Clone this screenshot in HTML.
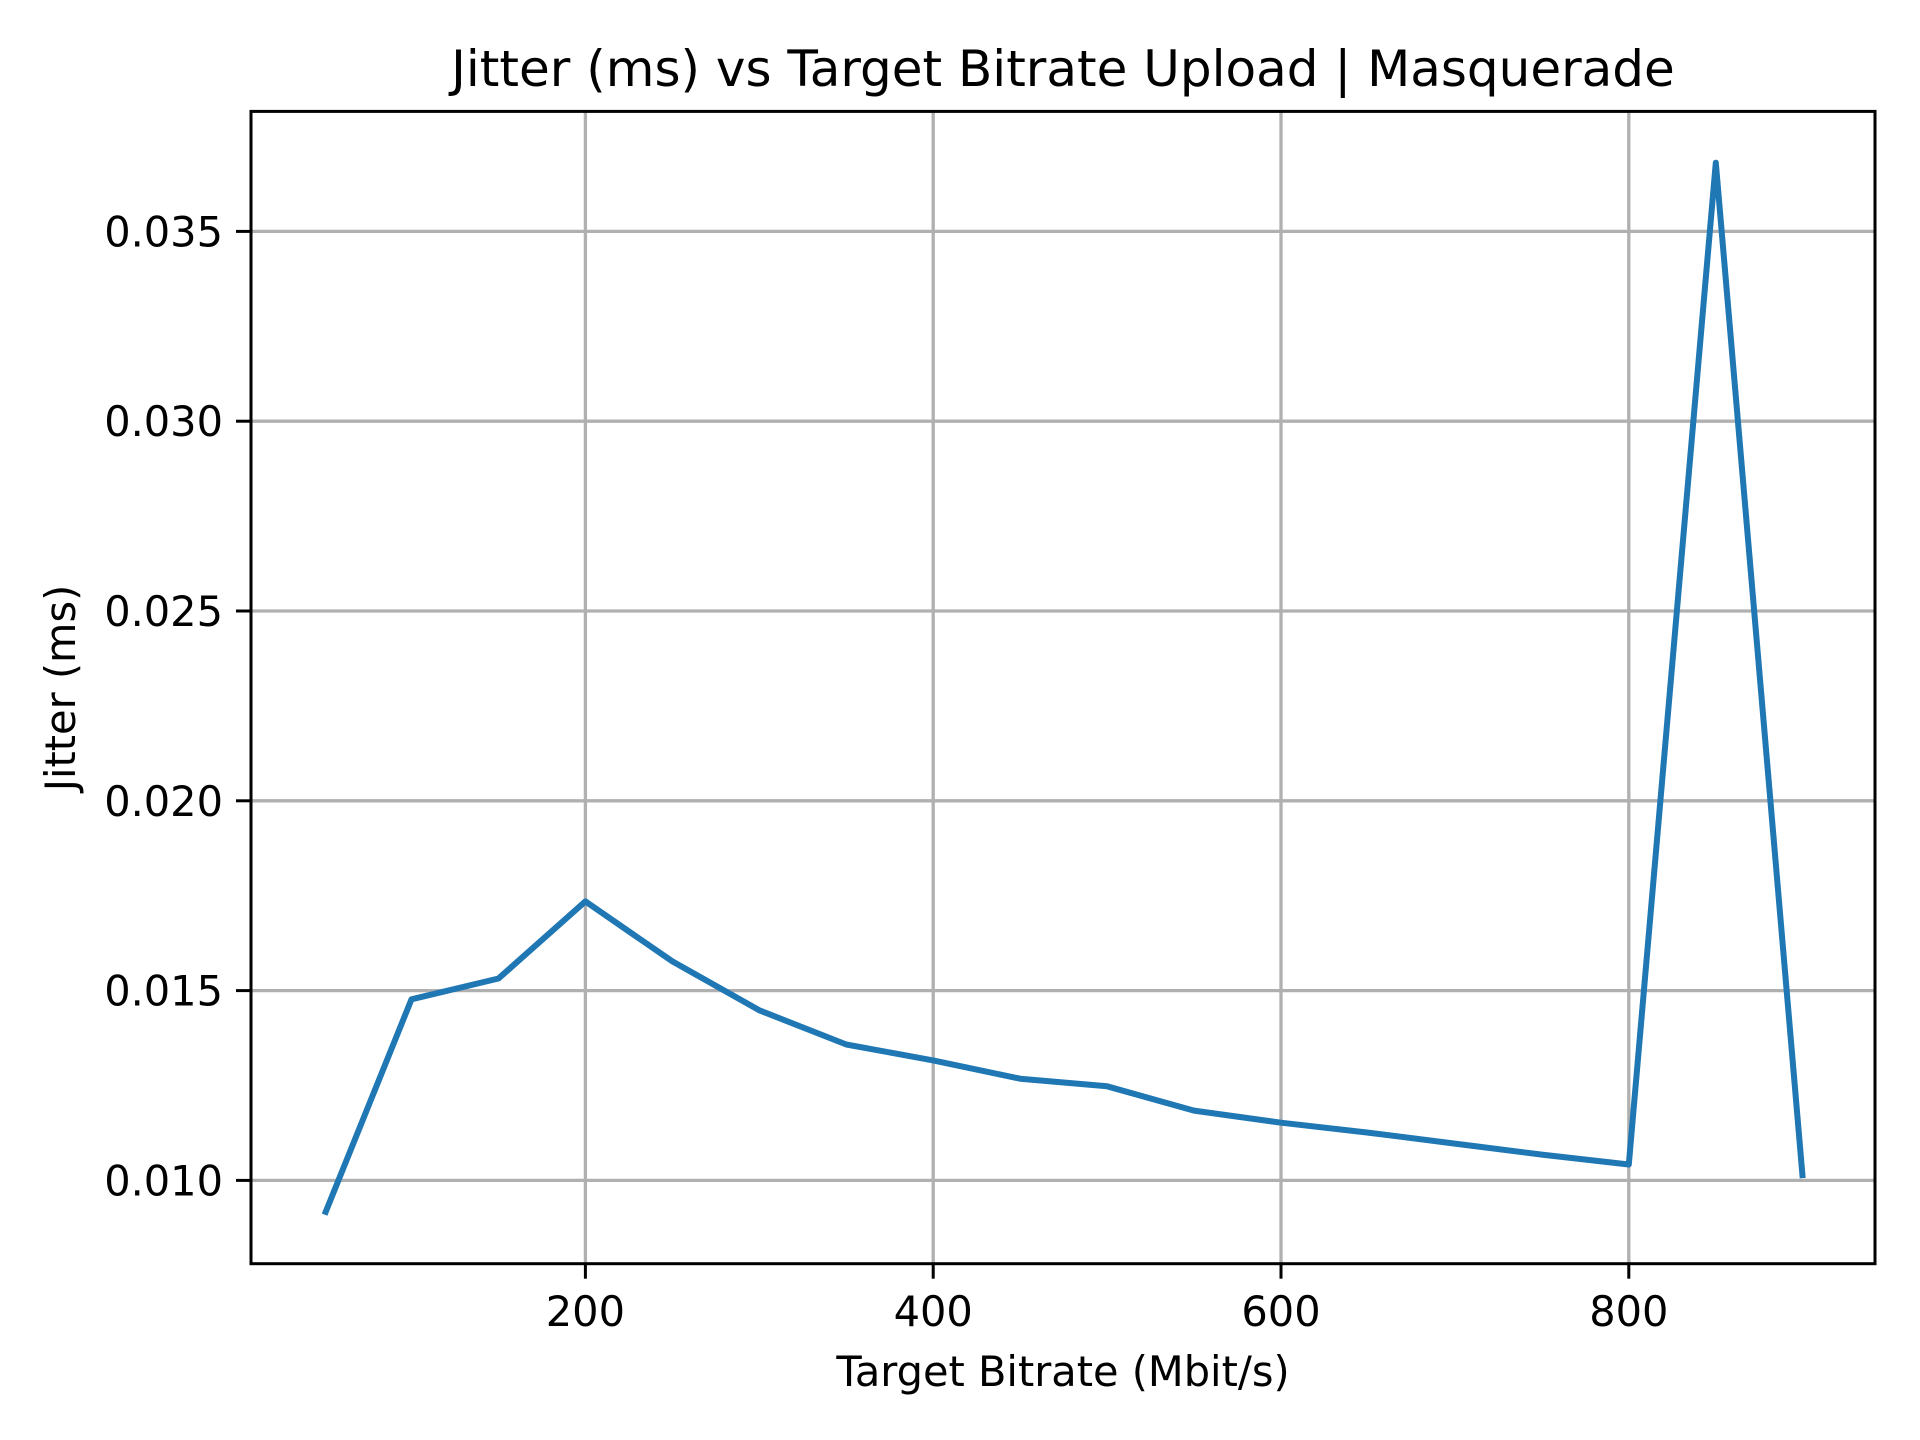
<!DOCTYPE html>
<html><head><meta charset="utf-8"><style>
html,body{margin:0;padding:0;background:#fff}
svg{display:block;font-family:"DejaVu Sans","Liberation Sans",sans-serif}
</style></head><body>
<svg id="chart" width="1920" height="1440" viewBox="0 0 1920 1440" xmlns="http://www.w3.org/2000/svg">
<rect width="1920" height="1440" fill="#fff"/>
<g id="grid"></g>
<g id="series"></g>
<rect x="251" y="111.4" width="1624" height="1152.3" fill="none" stroke="#000" stroke-width="3"/>
<g id="ticks"></g>
<text x="1063" y="86" font-size="50" text-anchor="middle">Jitter (ms) vs Target Bitrate Upload | Masquerade</text>
<text x="1063" y="1386" font-size="41.5" text-anchor="middle">Target Bitrate (Mbit/s)</text>
<text x="0" y="0" font-size="41.5" text-anchor="middle" transform="translate(75,688) rotate(-90)">Jitter (ms)</text>
</svg>
<script>
const bitrates=[50,100,150,200,250,300,350,400,450,500,550,600,650,700,750,800,850,900];
const jitter=[0.0091,0.01477,0.01532,0.01735,0.01577,0.01448,0.01358,0.01316,0.01268,0.01248,0.01184,0.01152,0.01126,0.01097,0.01068,0.01042,0.03681,0.01006];
const xTicks=[200,400,600,800];
const xTickLabels=["200","400","600","800"];
const yTicks=[0.010,0.015,0.020,0.025,0.030,0.035];
const yTickLabels=["0.010","0.015","0.020","0.025","0.030","0.035"];

const L=251,R=1875,T=111.4,B=1263.7;
function xs(v){return 237.6+v*1.739;}
function ys(v){return 1180.4-(v-0.010)*37960;}
const NS="http://www.w3.org/2000/svg";
function mk(tag,attrs,parent){const e=document.createElementNS(NS,tag);for(const k in attrs)e.setAttribute(k,attrs[k]);parent.appendChild(e);return e;}
const grid=document.getElementById('grid'),ticks=document.getElementById('ticks'),series=document.getElementById('series');
xTicks.forEach((t,i)=>{
  const x=xs(t);
  const g=mk('line',{x1:x,x2:x,y1:T,y2:B,stroke:'#b0b0b0','stroke-width':3.3},grid);
  
  
  const tk=mk('line',{x1:x,x2:x,y1:B,y2:B+15,stroke:'#000','stroke-width':3},ticks);
  
  
  const tx=mk('text',{x:x,y:1326,'font-size':41.5,'text-anchor':'middle'},ticks);
  tx.textContent=xTickLabels[i];
  
  
});
yTicks.forEach((t,i)=>{
  const y=ys(t);
  const g=mk('line',{x1:L,x2:R,y1:y,y2:y,stroke:'#b0b0b0','stroke-width':3.3},grid);
  
  
  const tk=mk('line',{x1:L-15,x2:L,y1:y,y2:y,stroke:'#000','stroke-width':3},ticks);
  
  
  const tx=mk('text',{x:223,y:y+15,'font-size':41.5,'text-anchor':'end'},ticks);
  tx.textContent=yTickLabels[i];
  
  
});
const pts=bitrates.map((b,i)=>xs(b).toFixed(1)+','+ys(jitter[i]).toFixed(1)).join(' ');
const pl=mk('polyline',{points:pts,fill:'none',stroke:'#1f77b4','stroke-width':6,'stroke-linejoin':'round','stroke-linecap':'butt'},series);


</script>
</body></html>
